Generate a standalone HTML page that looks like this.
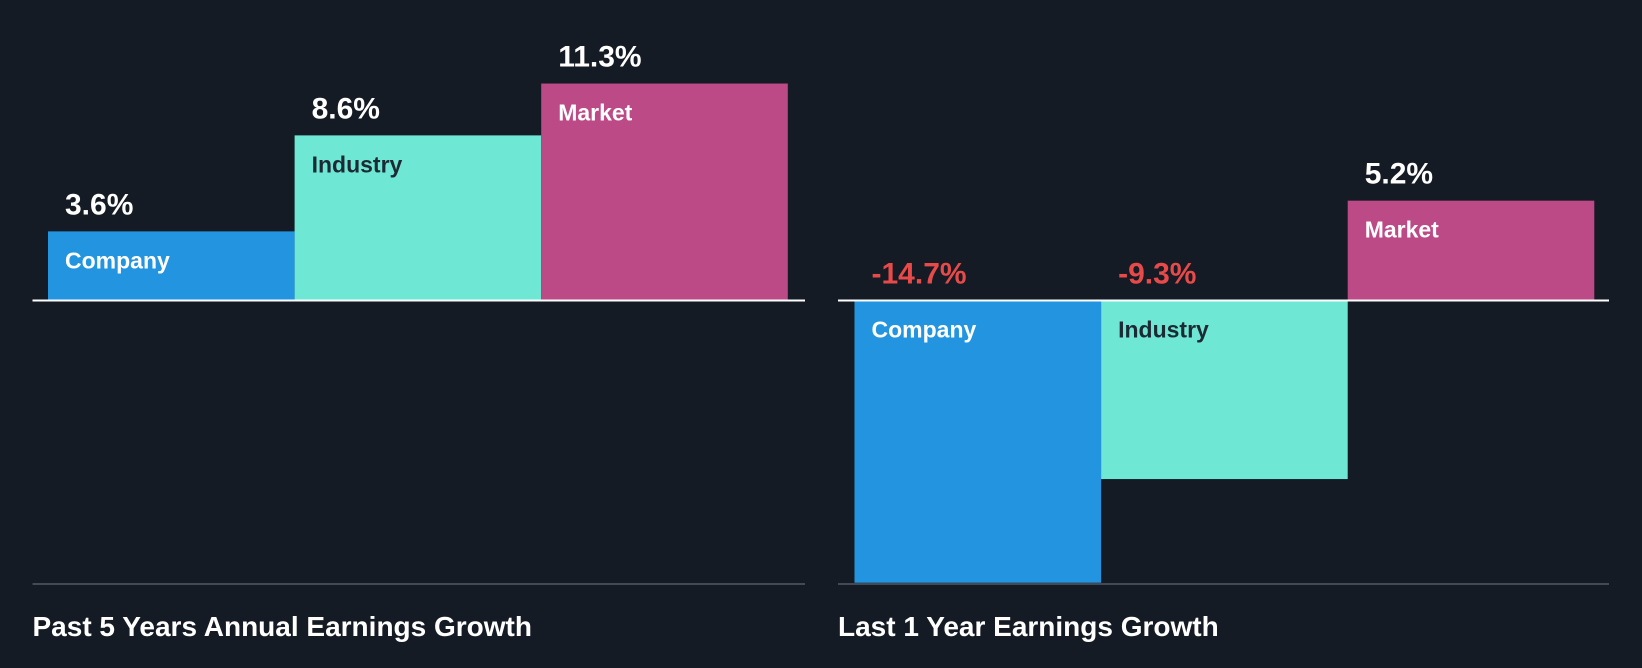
<!DOCTYPE html>
<html><head><meta charset="utf-8"><style>
html,body{margin:0;padding:0;background:#151b24;}
svg{display:block;font-family:"Liberation Sans",Arial,sans-serif;font-weight:bold;}
</style></head><body>
<svg id="c" width="1642" height="668" viewBox="0 0 1642 668">
<rect width="1642" height="668" fill="#151b24"/>
</svg>
<script>
const categories = ["Company", "Industry", "Market"];
const past5Values = [3.6, 8.6, 11.3];
const last1Values = [-14.7, -9.3, 5.2];
const panelTitles = ["Past 5 Years Annual Earnings Growth", "Last 1 Year Earnings Growth"];
const colors = ["#2394df", "#6ee7d5", "#bc4a87"];
const textColors = ["#ffffff", "#1e2a33", "#ffffff"];
const svg = document.getElementById('c');
const NS = "http://www.w3.org/2000/svg";
const baseY = 300.5, scale = 19.2;
function yPos(v){ return baseY - v*scale; }
function mk(tag, attrs){ const e=document.createElementNS(NS,tag); for(const k in attrs) e.setAttribute(k,attrs[k]); svg.appendChild(e); return e; }
const panels = [{x0:32.5,x1:805,barX:48,vals:past5Values},{x0:838,x1:1609,barX:854.5,vals:last1Values}];
panels.forEach((p,pi)=>{
  const bw = 246.6;
  p.vals.forEach((v,i)=>{
    const x = p.barX + i*bw;
    const top = Math.min(yPos(v), baseY), h = Math.abs(yPos(v)-baseY);
    const r = mk('rect',{x:x,y:top,width:bw,height:h,fill:colors[i]});
    
    
    const lab = mk('text',{x:x+17,y:(v>=0?top:baseY)+37,fill:textColors[i],'font-size':23});
    lab.textContent = categories[i];
    
    
    const vt = mk('text',{x:x+17,y:(v>=0?top:baseY)-17,fill:v<0?'#e84a4a':'#ffffff','font-size':30});
    vt.textContent = v.toFixed(1) + '%';
    
    
  });
  const bl = mk('line',{x1:p.x0,x2:p.x1,y1:baseY,y2:baseY,stroke:'#ffffff','stroke-width':2});
  
  
  const ax = mk('line',{x1:p.x0,x2:p.x1,y1:584,y2:584,stroke:'#555b63','stroke-width':1.5});
  
  
  const t = mk('text',{x:p.x0,y:636,fill:'#ffffff','font-size':28});
  t.textContent = panelTitles[pi];
  
  
});
</script>
</body></html>
